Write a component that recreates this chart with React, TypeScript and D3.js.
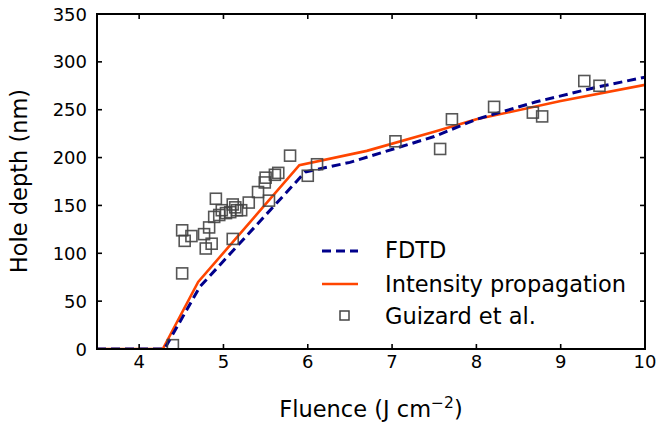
import React from "react";
import * as d3 from "d3";

const fdtdX = [3.5, 4.3, 4.72, 5.97, 6.5, 7.5, 8.0, 8.7, 9.4, 10.0];
const fdtdY = [0, 0, 65, 185, 195, 222, 240, 258, 273, 284];
const ipX = [3.5, 4.28, 4.7, 5.9, 6.7, 7.5, 8.0, 9.0, 10.0];
const ipY = [0, 0, 70, 192, 207, 227, 240, 259, 276];
const expX = [4.40, 4.51, 4.51, 4.54, 4.62, 4.77, 4.79, 4.83, 4.86, 4.89, 4.95, 4.91, 4.98, 5.03, 5.08, 5.11, 5.14, 5.16, 5.21, 5.11, 5.30, 5.41, 5.49, 5.50, 5.54, 5.61, 5.65, 5.79, 6.00, 6.11, 7.04, 7.57, 7.71, 8.21, 8.67, 8.78, 9.28, 9.46];
const expY = [4, 124, 79, 113, 118, 120, 105, 127, 110, 138, 140, 157, 145, 142, 143, 151, 148, 145, 145, 115, 153, 164, 174, 179, 155, 182, 184, 202, 181, 193, 217, 209, 240, 253, 247, 243, 280, 275];
const xTicks = [4, 5, 6, 7, 8, 9, 10];
const yTicks = [0, 50, 100, 150, 200, 250, 300, 350];

export default function App() {
  const W = 657, H = 424;
  const L = 97, R = 645, T = 14, B = 349;
  const x = d3.scaleLinear().domain([3.5, 10]).range([L, R]);
  const y = d3.scaleLinear().domain([0, 350]).range([B, T]);
  const line = d3.line<[number, number]>().x(d => x(d[0])).y(d => y(d[1]));
  const fdtd = line(fdtdX.map((v, i) => [v, fdtdY[i]]) as [number, number][]) || "";
  const ip = line(ipX.map((v, i) => [v, ipY[i]]) as [number, number][]) || "";
  const font = "DejaVu Sans, sans-serif";
  const tk = 5;
  const sq = 11;
  return (
    <svg width={W} height={H} style={{ position: "absolute", left: 0, top: 0, background: "#fff" }} fontFamily={font}>
      <defs>
        <clipPath id="plot"><rect x={L} y={T} width={R - L} height={B - T} /></clipPath>
      </defs>
      <g clipPath="url(#plot)">
        <path d={ip} fill="none" stroke="#FF4500" strokeWidth={2.6} />
        <path d={fdtd} fill="none" stroke="#00008B" strokeWidth={3} strokeDasharray="9,5" />
        {expX.map((v, i) => (
          <rect key={i} x={x(v) - sq / 2} y={y(expY[i]) - sq / 2} width={sq} height={sq} fill="none" stroke="#444" strokeOpacity={0.9} strokeWidth={1.6} />
        ))}
      </g>
      {xTicks.map(t => (
        <g key={"x" + t}>
          <line x1={x(t)} x2={x(t)} y1={B} y2={B - tk} stroke="#000" strokeWidth={1.6} />
          <line x1={x(t)} x2={x(t)} y1={T} y2={T + tk} stroke="#000" strokeWidth={1.6} />
          <text x={x(t)} y={368} fontSize={18} textAnchor="middle">{t}</text>
        </g>
      ))}
      {yTicks.map(t => (
        <g key={"y" + t}>
          <line x1={L} x2={L + tk} y1={y(t)} y2={y(t)} stroke="#000" strokeWidth={1.6} />
          <line x1={R} x2={R - tk} y1={y(t)} y2={y(t)} stroke="#000" strokeWidth={1.6} />
          <text x={87} y={y(t) + 6.5} fontSize={18} textAnchor="end">{t}</text>
        </g>
      ))}
      <rect x={L} y={T} width={R - L} height={B - T} fill="none" stroke="#000" strokeWidth={2} />
      <text x={371} y={417} fontSize={22.5} textAnchor="middle">
        Fluence (J cm<tspan dy={-9} fontSize={15.5}>−2</tspan><tspan dy={9}>)</tspan>
      </text>
      <text transform={`translate(27,${181}) rotate(-90)`} fontSize={22.5} textAnchor="middle">Hole depth (nm)</text>
      <g fontSize={22.5}>
        <line x1={322} x2={358} y1={251} y2={251} stroke="#00008B" strokeWidth={3} strokeDasharray="9,5" />
        <text x={385} y={258}>FDTD</text>
        <line x1={322} x2={358} y1={284} y2={284} stroke="#FF4500" strokeWidth={2.6} />
        <text x={385} y={292}>Intensity propagation</text>
        <rect x={340} y={311} width={9} height={9} fill="none" stroke="#444" strokeWidth={1.5} />
        <text x={385} y={324}>Guizard et al.</text>
      </g>
    </svg>
  );
}
